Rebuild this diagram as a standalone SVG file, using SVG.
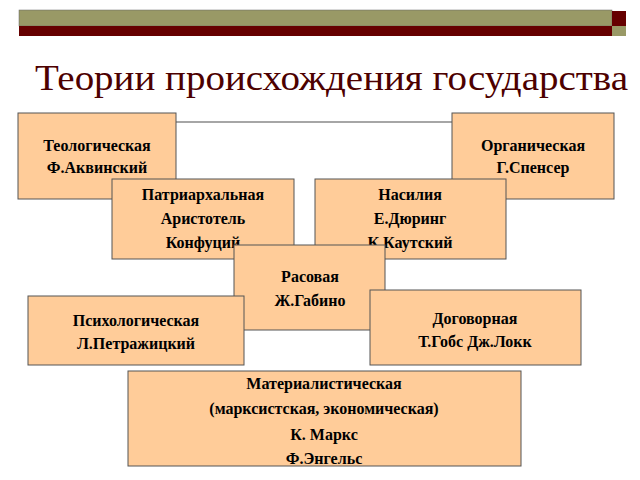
<svg xmlns="http://www.w3.org/2000/svg" width="640" height="480" viewBox="0 0 640 480">
<style>
.b{fill:#ffcc99;stroke:#555;stroke-width:1}
.t{font-family:"Liberation Serif",serif;font-weight:bold;font-size:16px;fill:#000;text-anchor:middle}
</style>
<rect width="640" height="480" fill="#fff"/>
<rect x="19" y="10" width="593" height="16" fill="#999966" stroke="#666" stroke-width="0.5"/>
<rect x="19" y="26" width="593" height="10" fill="#660000"/>
<rect x="612" y="11" width="14" height="15" fill="#660000"/>
<rect x="612" y="26" width="14" height="10" fill="#999966"/>
<text x="35" y="90" font-family="Liberation Serif,serif" font-size="35" fill="#4d0000" textLength="593" lengthAdjust="spacingAndGlyphs">Теории происхождения государства</text>
<g id="connectors"><line x1="176" y1="122" x2="452" y2="122" stroke="#888" stroke-width="1.5"/></g>
<g id="n1"><rect class="b" x="18" y="113" width="158" height="86"/><text class="t" x="97" y="151">Теологическая</text><text class="t" x="97" y="173">Ф.Аквинский</text></g>
<g id="n2"><rect class="b" x="452" y="113" width="162" height="86"/><text class="t" x="533" y="151">Органическая</text><text class="t" x="533" y="173">Г.Спенсер</text></g>
<g id="n3"><rect class="b" x="112" y="179" width="182" height="80"/><text class="t" x="203" y="200">Патриархальная</text><text class="t" x="203" y="224">Аристотель</text><text class="t" x="203" y="248">Конфуций</text></g>
<g id="n4"><rect class="b" x="315" y="179" width="191" height="80"/><text class="t" x="410" y="200">Насилия</text><text class="t" x="410" y="224">Е.Дюринг</text><text class="t" x="410" y="248">К.Каутский</text></g>
<g id="n5"><rect class="b" x="234" y="245" width="151" height="85"/><text class="t" x="310" y="282">Расовая</text><text class="t" x="310" y="306">Ж.Габино</text></g>
<g id="n6"><rect class="b" x="28" y="296" width="216" height="69"/><text class="t" x="136" y="326">Психологическая</text><text class="t" x="136" y="349">Л.Петражицкий</text></g>
<g id="n7"><rect class="b" x="370" y="290" width="211" height="75"/><text class="t" x="475" y="324">Договорная</text><text class="t" x="475" y="347">Т.Гобс Дж.Локк</text></g>
<g id="n8"><rect class="b" x="128" y="371" width="393" height="95"/><text class="t" x="324" y="389">Материалистическая</text><text class="t" x="324" y="414">(марксистская, экономическая)</text><text class="t" x="324" y="440">К. Маркс</text><text class="t" x="324" y="464">Ф.Энгельс</text></g>
</svg>
